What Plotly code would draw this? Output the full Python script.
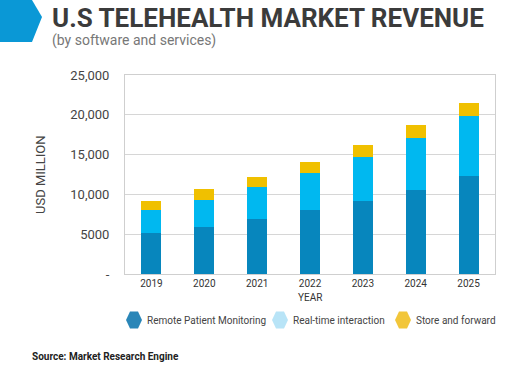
import plotly.graph_objects as go

years = ["2019", "2020", "2021", "2022", "2023", "2024", "2025"]
remote_monitoring = [5100, 5950, 6900, 8000, 9200, 10600, 12250]
realtime_interaction = [2900, 3380, 3980, 4670, 5470, 6440, 7540]
store_forward = [1160, 1290, 1250, 1460, 1540, 1660, 1670]
series_names = ["Remote Patient Monitoring", "Real-time interaction", "Store and forward"]
ytick_vals = [0, 5000, 10000, 15000, 20000, 25000]
ytick_text = ["-", "5000", "10,000", "15,000", "20,000", "25,000"]

colors = ["#0786bd", "#00b8f0", "#f0c000"]
legend_colors = ["#2a86b8", "#b8e4f7", "#f2c63a"]
W, H = 512, 387
L, R, T, B = 125, 17, 75, 113
PW, PH = W - L - R, H - T - B

def px(x):
    return (x - L) / PW

def py(y):
    return (H - B - y) / PH

fig = go.Figure()
for name, vals, c in zip(series_names, [remote_monitoring, realtime_interaction, store_forward], colors):
    fig.add_trace(go.Bar(x=years, y=vals, name=name, marker=dict(color=c, line=dict(width=0)),
                         showlegend=False))

fig.update_layout(
    width=W, height=H, barmode="stack", bargap=0.62,
    margin=dict(l=L, r=R, t=T, b=B, autoexpand=False),
    paper_bgcolor="white", plot_bgcolor="white",
    font=dict(family="Roboto", color="#333"),
    xaxis=dict(type="category", showgrid=False, showline=True, linecolor="#cfcfcf", mirror=True,
               tickfont=dict(size=10, color="#333"), ticks=""),
    yaxis=dict(range=[0, 25000], tickvals=ytick_vals, ticktext=ytick_text, showgrid=True,
               gridcolor="#d6d6d6", showline=True, linecolor="#cfcfcf", mirror=True, zeroline=False,
               tickfont=dict(size=13, color="#444"), ticklabelstandoff=12),
    showlegend=False,
)

# logo arrow shape
pts = [(0, 0), (32, 0), (42, 17), (32, 42), (0, 42)]
path = "M " + " L ".join(f"{px(x)},{py(y)}" for x, y in pts) + " Z"
fig.add_shape(type="path", path=path, xref="paper", yref="paper", fillcolor="#0a98d6", line=dict(width=0))

# manual legend with hexagon swatches
legend_marker_x = [134, 280, 403]
legend_text_x = [145, 291, 414]
legend_y = 320
for name, c, mx, tx in zip(series_names, legend_colors, legend_marker_x, legend_text_x):
    hx = [(mx - 8, legend_y), (mx - 4, legend_y - 8.5), (mx + 4, legend_y - 8.5),
          (mx + 8, legend_y), (mx + 4, legend_y + 8.5), (mx - 4, legend_y + 8.5)]
    hp = "M " + " L ".join(f"{px(x)},{py(y)}" for x, y in hx) + " Z"
    fig.add_shape(type="path", path=hp, xref="paper", yref="paper", fillcolor=c, line=dict(width=0))
    fig.add_annotation(text=name, x=px(tx), y=py(legend_y), xref="paper", yref="paper",
                       xanchor="left", yanchor="middle", showarrow=False,
                       font=dict(family="Roboto", size=10, color="#444"))

title_html = ("<span style='font-size:26px;color:#3b3b3b'><b>U.S TELEHEALTH MARKET REVENUE</b></span>"
              "<br>(by software and services)")
fig.add_annotation(text=title_html, x=px(50), y=py(1), xref="paper", yref="paper",
                   xanchor="left", yanchor="top", align="left", showarrow=False,
                   font=dict(family="Roboto", size=14, color="#777"))
fig.add_annotation(text="USD MILLION", x=px(40), y=py(175), xref="paper", yref="paper", textangle=-90,
                   xanchor="center", yanchor="middle", showarrow=False,
                   font=dict(family="Roboto", size=13, color="#444"))
fig.add_annotation(text="YEAR", x=px(310), y=py(297), xref="paper", yref="paper",
                   xanchor="center", yanchor="middle", showarrow=False,
                   font=dict(family="Roboto", size=10, color="#333"))
fig.add_annotation(text="<b>Source: Market Research Engine</b>", x=px(30), y=py(356), xref="paper", yref="paper",
                   xanchor="left", yanchor="middle", showarrow=False,
                   font=dict(family="Roboto", size=10, color="#222"))

fig.write_html("out.html", config={"displayModeBar": False},
               post_script="document.body.style.margin='0';")
